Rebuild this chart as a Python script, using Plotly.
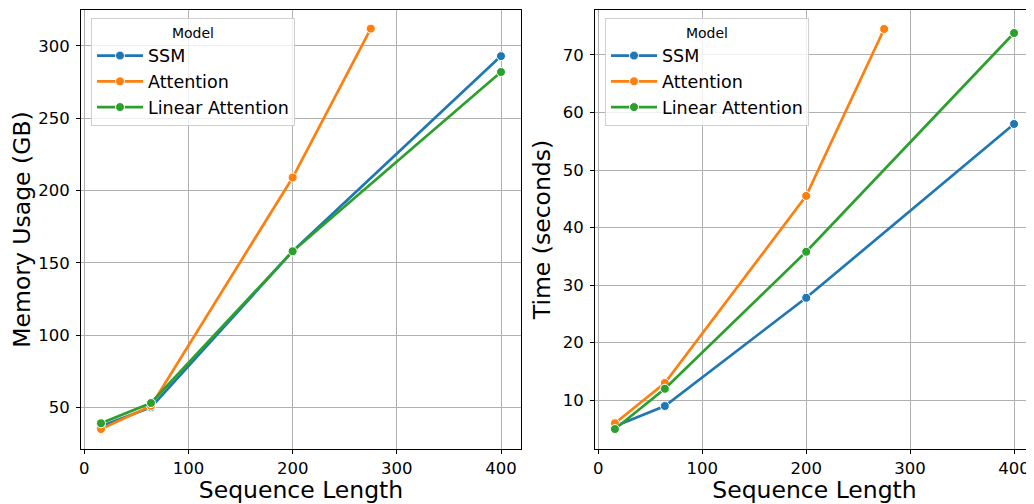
import plotly.graph_objects as go
from plotly.subplots import make_subplots

seq_len = [16, 64, 200, 400]
seq_len_attn = [16, 64, 200, 275]

mem_ssm = [37, 50, 158, 293]
mem_attn = [35, 51, 209, 312]
mem_lin = [39, 53, 158, 282]

time_ssm = [5.5, 9, 27.8, 58]
time_attn = [6, 13, 45.5, 74.5]
time_lin = [5, 12, 35.8, 73.8]

models = ["SSM", "Attention", "Linear Attention"]
colors = ["#1f77b4", "#ff7f0e", "#2ca02c"]

fig = make_subplots(rows=1, cols=2, horizontal_spacing=0.08)

left_data = [(seq_len, mem_ssm), (seq_len_attn, mem_attn), (seq_len, mem_lin)]
right_data = [(seq_len, time_ssm), (seq_len_attn, time_attn), (seq_len, time_lin)]

for col, data, leg in [(1, left_data, "legend"), (2, right_data, "legend2")]:
    for name, color, (xs, ys) in zip(models, colors, data):
        fig.add_trace(go.Scatter(
            x=xs, y=ys, name=name, mode="lines+markers",
            line=dict(color=color, width=2.7),
            marker=dict(color=color, size=9, line=dict(color="white", width=1)),
            legend=leg,
        ), row=1, col=col)

# the page body adds an 8px offset; work in reference pixel coords minus 8
OFF = 8
W, H = 1034 - OFF, 504 - OFF
plot_top = 9.5
plot_bottom = 449
ml, mr, mt = 81 - OFF, 0, plot_top - OFF
mb = H - (plot_bottom - OFF)
pw = W - ml - mr
ph = H - mt - mb

def px(xp):
    return (xp - OFF - ml) / pw

def py(yp):
    return (plot_bottom - yp) / ph

legend_common = dict(
    xanchor="left", yanchor="top",
    title=dict(text="Model", side="top center", font=dict(size=14)),
    bgcolor="rgba(255,255,255,0.8)", bordercolor="#d0d0d0", borderwidth=1,
    font=dict(size=17.5), itemwidth=46,
)

fig.update_layout(
    width=W, height=H,
    margin=dict(l=ml, r=mr, t=mt, b=mb),
    paper_bgcolor="white", plot_bgcolor="white",
    font=dict(family="DejaVu Sans", size=16, color="black"),
    legend=dict(x=px(91), y=py(18), **legend_common),
    legend2=dict(x=px(605), y=py(18), **legend_common),
)

fig.update_xaxes(domain=[0, px(521)], row=1, col=1)
fig.update_xaxes(domain=[px(595), 1], row=1, col=2)

axis_common = dict(
    showgrid=True, gridcolor="#b0b0b0", gridwidth=1,
    showline=True, linecolor="black", linewidth=1, mirror=True,
    ticks="outside", ticklen=4, tickcolor="black",
    tickfont=dict(size=16.5), zeroline=False, automargin=False,
)
fig.update_xaxes(**axis_common, range=[-3.2, 419.2], tickvals=[0, 100, 200, 300, 400],
                 title=dict(text="Sequence Length", font=dict(size=23.5), standoff=2))
fig.update_yaxes(**axis_common, ticklabelstandoff=3)
fig.update_yaxes(range=[21.2, 324.9], tickvals=[50, 100, 150, 200, 250, 300],
                 title=dict(text="Memory Usage (GB)", font=dict(size=23.5), standoff=5), row=1, col=1)
fig.update_yaxes(range=[1.53, 77.8], tickvals=[10, 20, 30, 40, 50, 60, 70],
                 title=dict(text="Time (seconds)", font=dict(size=23.5), standoff=5), row=1, col=2)

fig.write_html("out.html")
